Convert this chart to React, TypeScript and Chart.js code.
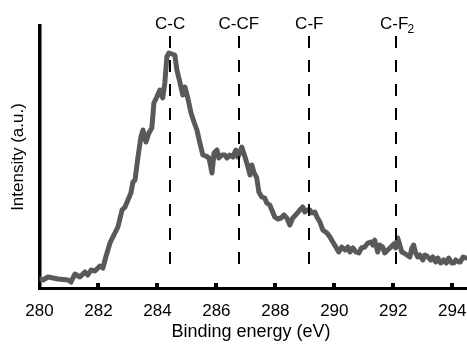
import React, { useEffect, useRef } from "react";
import { Chart, registerables } from "chart.js";

Chart.register(...registerables);

const ENERGY = [
  280.02, 280.12, 280.29, 280.46, 280.63, 280.8, 280.97, 281.07, 281.2, 281.37,
  281.54, 281.64, 281.75, 281.88, 282.05, 282.15, 282.25, 282.39, 282.49, 282.66,
  282.8, 282.9, 283.0, 283.1, 283.17, 283.24, 283.34, 283.44, 283.51, 283.61,
  283.71, 283.81, 283.88, 283.98, 284.08, 284.18, 284.25, 284.32, 284.39, 284.49,
  284.59, 284.66, 284.76, 284.86, 284.93, 285.03, 285.14, 285.24, 285.34, 285.44,
  285.54, 285.64, 285.75, 285.85, 285.92, 286.02, 286.08, 286.19, 286.29, 286.36,
  286.46, 286.56, 286.66, 286.73, 286.8, 286.86, 286.97, 287.07, 287.14, 287.2,
  287.27, 287.37, 287.44, 287.54, 287.64, 287.71, 287.81, 287.88, 287.98, 288.08,
  288.19, 288.29, 288.39, 288.49, 288.59, 288.69, 288.83, 288.93, 289.0, 289.07,
  289.17, 289.24, 289.34, 289.41, 289.51, 289.61, 289.75, 289.85, 289.95, 290.05,
  290.15, 290.25, 290.36, 290.46, 290.53, 290.63, 290.73, 290.83, 290.92, 291.03,
  291.14, 291.24, 291.31, 291.37, 291.47, 291.54, 291.64, 291.71, 291.81, 291.92,
  292.02, 292.08, 292.15, 292.22, 292.29, 292.36, 292.46, 292.56, 292.63, 292.69,
  292.76, 292.83, 292.9, 293.0, 293.07, 293.14, 293.27, 293.34, 293.44, 293.51,
  293.61, 293.71, 293.8, 293.88, 293.98, 294.05, 294.12, 294.22, 294.27, 294.37,
  294.47,
];

const INTENSITY = [
  9, 8, 11, 10, 9, 8.5, 8, 6, 14, 11,
  16, 13, 18, 17, 22, 20, 31, 45, 51, 61,
  78, 81, 88, 95, 106, 108, 131, 151, 158, 146,
  155, 160, 185, 191, 198, 190, 205, 231, 235, 234,
  233, 218, 206, 193, 201, 190, 175, 166, 158, 145,
  133, 132, 130, 115, 135, 138, 130, 133, 133, 130,
  133, 131, 138, 131, 136, 141, 131, 121, 113, 123,
  116, 110, 96, 91, 90, 85, 83, 78, 71, 69,
  70, 73, 70, 63, 70, 73, 78, 81, 76, 78,
  78, 75, 76, 71, 66, 58, 55, 51, 46, 41,
  36, 41, 38, 41, 36, 40, 36, 35, 40, 41,
  45, 46, 43, 48, 36, 43, 41, 35, 38, 41,
  44, 40, 50, 43, 36, 35, 33, 31, 40, 43,
  35, 31, 33, 28, 33, 32, 28, 31, 26, 30,
  25, 28, 25, 30, 25, 25, 28, 26, 26, 31,
  30,
];

const X_TICKS = [280, 282, 284, 286, 288, 290, 292, 294];
const PEAK_POSITIONS = [284.43, 286.76, 289.15, 292.1];
const PEAK_LABELS = ["C-C", "C-CF", "C-F", "C-F"];
const PEAK_SUBSCRIPTS = ["", "", "", "2"];

const X_TITLE = "Binding energy (eV)";
const Y_TITLE = "Intensity (a.u.)";

const FONT = "'Liberation Sans', Arial, sans-serif";

const overlay = {
  id: "overlay",
  afterDatasetsDraw(chart: any) {
    const ctx = chart.ctx;
    const xs = chart.scales.x;
    const area = chart.chartArea;
    ctx.save();
    ctx.strokeStyle = "#000";
    ctx.lineWidth = 2;
    ctx.setLineDash([12, 12]);
    PEAK_POSITIONS.forEach((p) => {
      const x = Math.round(xs.getPixelForValue(p));
      ctx.beginPath();
      ctx.moveTo(x, 36);
      ctx.lineTo(x, 270);
      ctx.stroke();
    });
    ctx.setLineDash([]);
    ctx.fillStyle = "#000";
    ctx.textBaseline = "middle";
    PEAK_POSITIONS.forEach((p, i) => {
      const x = xs.getPixelForValue(p);
      ctx.font = `17px ${FONT}`;
      const main = PEAK_LABELS[i];
      const sub = PEAK_SUBSCRIPTS[i];
      const w = ctx.measureText(main).width;
      if (!sub) {
        ctx.textAlign = "center";
        ctx.fillText(main, x, 24);
      } else {
        ctx.textAlign = "left";
        const left = x - w / 2 - 2;
        ctx.fillText(main, left, 24);
        ctx.font = `12px ${FONT}`;
        ctx.fillText(sub, left + w - 1, 30);
      }
    });
    X_TICKS.forEach((t) => {
      const x = xs.getPixelForValue(t);
      if (t === X_TICKS[0]) return;
      ctx.fillRect(Math.round(x) - 2, area.bottom - 5, 4, 5);
    });
    ctx.font = `18px ${FONT}`;
    ctx.textAlign = "center";
    ctx.textBaseline = "middle";
    ctx.fillText(X_TITLE, 251, 332);
    ctx.font = `17px ${FONT}`;
    ctx.translate(18, 157);
    ctx.rotate(-Math.PI / 2);
    ctx.fillText(Y_TITLE, 0, 0);
    ctx.restore();
  },
};

export default function App() {
  const ref = useRef<HTMLCanvasElement | null>(null);
  useEffect(() => {
    if (!ref.current) return;
    const chart = new Chart(ref.current, {
      type: "line",
      data: {
        datasets: [
          {
            data: ENERGY.map((e, i) => ({ x: e, y: INTENSITY[i] })),
            borderColor: "#595959",
            borderWidth: 5,
            pointRadius: 0,
            tension: 0,
            fill: false,
            borderJoinStyle: "round",
            borderCapStyle: "round",
          },
        ],
      },
      options: {
        animation: false,
        responsive: false,
        maintainAspectRatio: false,
        layout: { padding: { top: 26, left: 0, right: 0, bottom: 0 } },
        plugins: {
          legend: { display: false },
          tooltip: { enabled: false },
        },
        scales: {
          x: {
            type: "linear",
            min: 280,
            max: 294.5,
            afterBuildTicks: (scale: any) => {
              scale.ticks = X_TICKS.map((v) => ({ value: v }));
            },
            afterFit: (scale: any) => {
              scale.height = 56;
              scale.paddingRight = 0;
              scale.paddingLeft = 0;
            },
            grid: { display: false },
            border: { display: true, color: "#000", width: 3 },
            ticks: {
              color: "#000",
              font: { family: FONT, size: 17 },
              padding: 5,
              maxRotation: 0,
              autoSkip: false,
            },
          },
          y: {
            type: "linear",
            min: 0,
            max: 262,
            afterFit: (scale: any) => {
              scale.width = 39.5;
              scale.paddingTop = 0;
              scale.paddingBottom = 0;
            },
            grid: { display: false },
            border: { display: true, color: "#000", width: 3.5 },
            ticks: { display: false },
          },
        },
      },
      plugins: [overlay],
    });
    return () => chart.destroy();
  }, []);
  return (
    <div style={{ position: "absolute", left: 0, top: 0, width: 467, height: 344, background: "#fff" }}>
      <canvas ref={ref} width={467} height={344} style={{ width: 467, height: 344, display: "block" }} />
    </div>
  );
}
